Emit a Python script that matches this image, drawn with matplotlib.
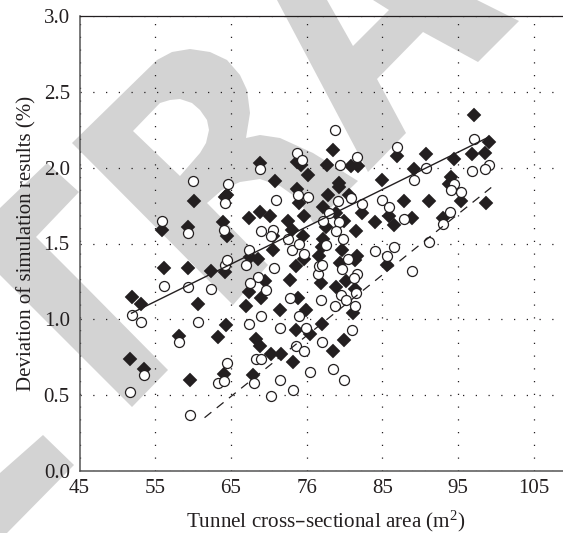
import matplotlib
matplotlib.use("Agg")
import matplotlib.pyplot as plt
from matplotlib.patches import Polygon

plt.rcParams['font.family'] = ['Liberation Serif', 'DejaVu Serif']
plt.rcParams['mathtext.default'] = 'regular'

W, H = 563, 533

diamond_x = [68.83, 70.86, 73.77, 74.30, 75.22, 73.77, 73.94, 64.52, 64.16, 60.15, 67.38, 68.83, 70.11, 72.53, 73.06,
             74.60, 74.52, 63.94, 64.52, 59.27, 55.88, 70.55, 70.55, 68.57, 67.47, 74.60, 73.63, 72.75, 56.10, 59.36,
             62.31, 64.25, 69.49, 67.38, 69.01, 73.85, 51.87, 53.15, 60.59, 67.03, 71.43, 74.87, 64.38, 63.28, 73.55,
             75.48, 58.08, 68.26, 68.79, 70.33, 71.56, 73.19, 51.65, 53.46, 64.07, 67.91, 59.63,
             97.10, 99.08, 98.51, 96.88, 94.41, 90.71, 86.92, 89.13, 84.98, 78.47, 77.67, 80.89, 81.77, 79.26, 79.26,
             80.58, 77.89, 77.14, 78.91, 82.34, 80.00, 77.50, 84.02, 85.82, 86.48, 88.95, 87.89, 91.11, 94.02, 93.75,
             95.43, 98.64, 93.00, 81.55, 77.14, 76.70, 77.06, 79.70, 79.43, 81.64, 81.33, 85.60, 76.92, 78.82, 80.23,
             81.33, 81.11, 77.01, 80.00, 78.47]
diamond_y = [2.03, 1.91, 2.04, 2.02, 1.95, 1.86, 1.77, 1.82, 1.81, 1.78, 1.67, 1.71, 1.68, 1.65, 1.59,
             1.68, 1.55, 1.64, 1.55, 1.61, 1.59, 1.55, 1.46, 1.40, 1.41, 1.40, 1.35, 1.26, 1.34, 1.34,
             1.32, 1.31, 1.25, 1.18, 1.14, 1.14, 1.15, 1.10, 1.10, 1.09, 1.06, 1.06, 0.96, 0.88, 0.93,
             0.90, 0.89, 0.87, 0.82, 0.77, 0.77, 0.72, 0.74, 0.67, 0.64, 0.63, 0.60,
             2.35, 2.17, 2.10, 2.09, 2.06, 2.09, 2.08, 1.99, 1.92, 2.12, 2.02, 2.01, 2.01, 1.90, 1.87,
             1.82, 1.82, 1.74, 1.70, 1.70, 1.65, 1.61, 1.64, 1.68, 1.62, 1.67, 1.78, 1.78, 1.94, 1.89,
             1.78, 1.77, 1.67, 1.58, 1.53, 1.42, 1.48, 1.46, 1.37, 1.42, 1.39, 1.36, 1.24, 1.21, 1.25,
             1.20, 1.04, 0.97, 0.86, 0.79]

circle_x = [68.57, 70.68, 66.98, 64.25, 64.52, 67.42, 73.11, 73.94, 72.53, 74.60, 68.92, 70.59, 70.33, 64.03, 59.27,
            55.84, 64.25, 64.65, 60.02, 70.90, 73.81, 75.18, 73.72, 74.43, 68.88, 76.54, 76.70, 56.10, 59.36,
            62.31, 51.87, 53.15, 60.59, 67.38, 69.01, 71.43, 73.94, 72.75, 74.96, 58.13, 73.55, 74.60, 68.35, 68.92,
            64.43, 53.50, 75.48, 71.52, 63.33, 64.07, 68.00, 51.65, 73.24, 70.33, 59.63, 67.51, 69.63,
            78.69, 86.92, 97.06, 81.68, 79.43, 90.71, 89.17, 99.08, 98.51, 96.84, 94.41, 94.02, 95.43, 84.94, 85.82,
            80.80, 79.13, 82.30, 77.94, 79.26, 77.14, 87.89, 93.88, 93.00, 78.91, 79.79, 91.11, 77.58, 86.48, 84.02,
            85.60, 80.45, 77.06, 79.70, 88.95, 81.64, 81.24, 81.55, 79.48, 80.23, 76.92, 78.77, 81.33, 81.06, 77.01,
            78.47, 79.96]
circle_y = [1.28, 1.34, 1.36, 1.36, 1.39, 1.46, 1.46, 1.50, 1.53, 1.43, 1.58, 1.59, 1.55, 1.59, 1.57,
            1.65, 1.77, 1.89, 1.91, 1.79, 1.82, 1.81, 2.10, 2.05, 1.99, 1.30, 1.35, 1.22, 1.21,
            1.20, 1.03, 0.98, 0.98, 0.97, 1.02, 0.94, 1.02, 1.14, 0.94, 0.85, 0.82, 0.79, 0.74, 0.74,
            0.71, 0.63, 0.65, 0.60, 0.58, 0.59, 0.58, 0.52, 0.53, 0.49, 0.37, 1.24, 1.19,
            2.25, 2.14, 2.19, 2.07, 2.02, 2.00, 1.92, 2.02, 1.99, 1.98, 1.89, 1.85, 1.84, 1.79, 1.74,
            1.80, 1.78, 1.76, 1.70, 1.64, 1.65, 1.66, 1.71, 1.63, 1.58, 1.53, 1.51, 1.49, 1.48, 1.45,
            1.42, 1.40, 1.36, 1.33, 1.32, 1.30, 1.27, 1.17, 1.16, 1.13, 1.13, 1.09, 1.09, 0.93, 0.85,
            0.67, 0.60]

solid_x = [51.87, 98.95]
solid_y = [1.04, 2.20]
dashed_x = [61.52, 99.39]
dashed_y = [0.35, 1.87]

x_ticks = [45, 55, 65, 75, 85, 95, 105]
x_labels = ['45', '55', '65', '76', '85', '95', '105']
y_ticks = [0.0, 0.5, 1.0, 1.5, 2.0, 2.5, 3.0]
y_labels = ['0.0', '0.5', '1.0', '1.5', '2.0', '2.5', '3.0']

# Watermark outlines, in image pixels
wm_stroke_low = [(0, 473), (43, 435), (74, 465), (7, 533), (0, 533)]
wm_stroke_d = [(0, 208), (47, 163), (79, 192), (36, 237), (79, 280), (168, 370), (132, 407), (0, 275)]
wm_letter_r = [(72, 143), (157, 60), (172, 52), (190, 49), (210, 52), (227, 60), (240, 75), (247, 90), (250, 113),
               (246, 138), (260, 135), (280, 138), (313, 153), (358, 181), (314, 224), (297, 198), (280, 186),
               (260, 179), (240, 182), (222, 190), (207, 203), (268, 265), (233, 305)]
wm_hole_r = [(133, 131), (160, 103), (170, 100), (180, 99), (192, 103), (200, 110), (207, 120), (209, 130),
             (206, 143), (200, 153), (180, 176)]
wm_letter_a = [(277, 0), (368, 172), (406, 133), (377, 79), (423, 32), (478, 62), (519, 21), (477, 0), (373, 0),
               (389, 10), (353, 46), (327, 0)]

fig = plt.figure(figsize=(W / 100, H / 100), dpi=100, facecolor='white')


def to_fig(pts):
    return [(x / W, 1 - y / H) for x, y in pts]


for pts in (wm_stroke_low, wm_stroke_d, wm_letter_r, wm_letter_a):
    fig.add_artist(Polygon(to_fig(pts), closed=True, transform=fig.transFigure, facecolor='#d3d3d3',
                           edgecolor='none', zorder=-2))
fig.add_artist(Polygon(to_fig(wm_hole_r), closed=True, transform=fig.transFigure, facecolor='white',
                       edgecolor='none', zorder=-1))

ax = fig.add_axes([79.5 / W, (H - 470.7) / H, (W - 79.5) / W, (470.7 - 16.3) / H])
ax.patch.set_alpha(0)
ax.set_xlim(45, 45 + (W - 79.5) / 7.57)
ax.set_ylim(0, 3)

ax.set_xticks(x_ticks)
ax.set_xticklabels(x_labels)
ax.set_yticks(y_ticks)
ax.set_yticklabels(y_labels)
ax.tick_params(axis='both', length=0, labelsize=15, labelcolor='#231f20')
ax.tick_params(axis='x', pad=6.3)
ax.tick_params(axis='y', pad=7)

ax.grid(True, color='#231f20', linewidth=0.9, linestyle=(0, (1, 9.2)))
ax.set_axisbelow(True)

ax.spines['right'].set_visible(False)
ax.spines['top'].set_color('#231f20')
ax.spines['top'].set_linewidth(0.9)
for side in ('left', 'bottom'):
    ax.spines[side].set_color('#555555')
    ax.spines[side].set_linewidth(1.1)

ax.plot(diamond_x, diamond_y, linestyle='none', marker='D', markersize=7.0, markerfacecolor='#231f20',
        markeredgecolor='#231f20', markeredgewidth=0.3, zorder=3, clip_on=False)
ax.plot(circle_x, circle_y, linestyle='none', marker='o', markersize=7.2, markerfacecolor='white',
        markeredgecolor='#231f20', markeredgewidth=0.9, zorder=4, clip_on=False)
ax.plot(solid_x, solid_y, color='#231f20', linewidth=1.0, zorder=5)
ax.plot(dashed_x, dashed_y, color='#231f20', linewidth=0.9, linestyle=(0, (7, 5.5)), zorder=5)

ax.set_xlabel('Tunnel cross\u2013sectional area (m$^{2}$)', fontsize=15.2, color='#231f20')
ax.xaxis.set_label_coords(0.51, -0.111, transform=ax.transAxes)
ax.xaxis.label.set_verticalalignment('center')
ax.set_ylabel('Deviation of simulation results (%)', fontsize=15, color='#231f20')
ax.yaxis.set_label_coords(-0.110, 0.5, transform=ax.transAxes)
ax.yaxis.label.set_verticalalignment('center')

fig.savefig('out.png', dpi=100)
